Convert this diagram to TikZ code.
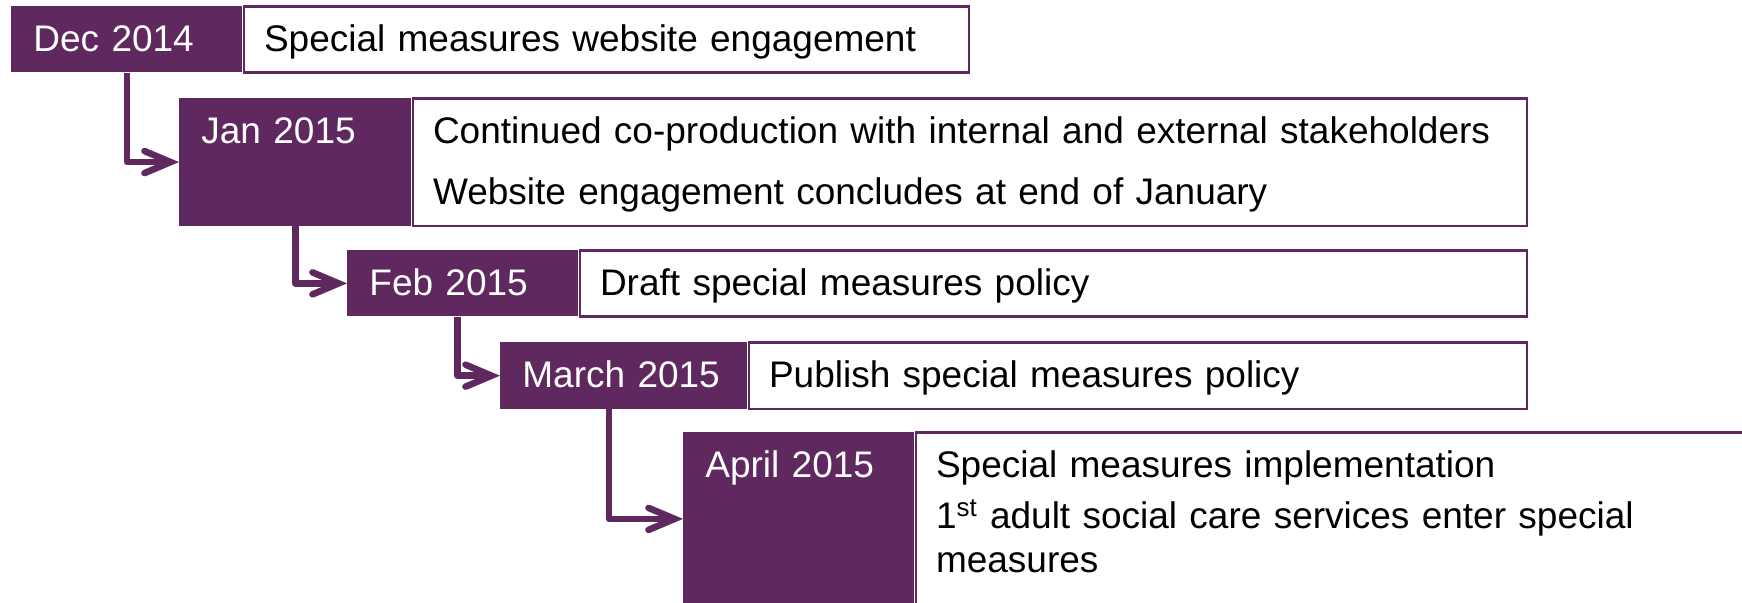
\documentclass[tikz,border=0pt]{standalone}
\usepackage{fontspec}
\setmainfont{Liberation Sans}
\usetikzlibrary{positioning,arrows.meta}
\definecolor{plum}{RGB}{95,40,95}

\begin{document}
\begin{tikzpicture}
    [%%%%%%%%%%%%%%%%%%%%%%%%%%%%%%%%%%%%%%%%%%%%%%%%%%%%%%%%%%
        x=0.5pt,y=-0.5pt,node distance=0pt,
        >={Straight Barb[length=13pt,width=11pt,line cap=round]},
        box/.style={inner ysep=0pt,text height=22.5pt,align=left,
                    font=\fontsize{18.5}{21.7}\selectfont},
        datebox/.style={box,fill=plum,text=white,inner xsep=11pt,
                        anchor=north west},
        eventbox/.style={box,draw=plum,line width=1.2pt,fill=white,
                         inner xsep=10pt},
        flow/.style={->,draw=plum,line width=3.3pt,line join=round}
    ]%%%%%%%%%%%%%%%%%%%%%%%%%%%%%%%%%%%%%%%%%%%%%%%%%%%%%%%%%%
    \useasboundingbox (0,0) rectangle (1742,603);
    \clip (0,0) rectangle (1742,603);

    \node[datebox,text width=93.5pt,text depth=10.5pt] (dec) at (11,6) {Dec 2014};
    \node[eventbox,text width=342.5pt,text depth=10.5pt] (decev) [right=of dec]
        {Special measures website engagement};

    \node[datebox,text width=94pt,text depth=41.2pt] (jan) at (179,98) {Jan 2015};
    \node[eventbox,text width=537pt,text depth=41.2pt] (janev) [right=of jan]
        {Continued co-production with internal and external stakeholders\\[8.8pt]
         Website engagement concludes at end of January};

    \node[datebox,text width=93.5pt,text depth=10.5pt] (feb) at (347,250) {Feb 2015};
    \node[eventbox,text width=453.5pt,text depth=10.5pt] (febev) [right=of feb]
        {Draft special measures policy};

    \node[datebox,text width=101.5pt,text depth=10.8pt] (mar) at (500,342) {March 2015};
    \node[eventbox,text width=369pt,text depth=10.8pt] (marev) [right=of mar]
        {Publish special measures policy};

    \node[datebox,text width=93.5pt,text depth=64pt] (apr) at (683,432) {April 2015};
    \node[eventbox,text width=430pt,text depth=64pt] (aprev) [right=of apr]
        {Special measures implementation\\[4.1pt]
         1\textsuperscript{st} adult social care services enter special\\
         measures};

    \draw[flow] (dec.south) |- (jan.west);
    \draw[flow] (jan.south) |- (feb.west);
    \draw[flow] ([xshift=-2.75pt]feb.south) |- (mar.west);
    \draw[flow] ([xshift=-7.5pt]mar.south) |- (apr.west);
\end{tikzpicture}
\end{document}
